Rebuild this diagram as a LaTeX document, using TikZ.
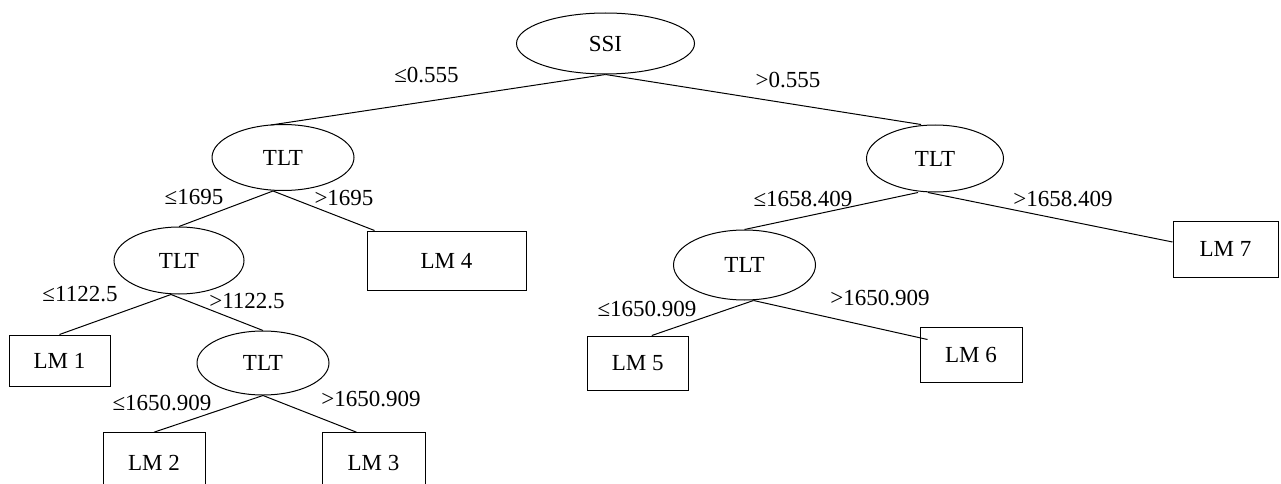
\documentclass[tikz,border=0pt]{standalone}
\usepackage{fontspec}
\setmainfont{Liberation Serif}
\usetikzlibrary{shapes.geometric,calc}
\begin{document}
\begin{tikzpicture}[x=1pt,y=-1pt,
  every node/.style={font=\fontsize{23}{26}\selectfont},
  ell/.style={draw, ellipse, inner sep=0pt, line width=1pt},
  lmbox/.style={draw, rectangle, inner sep=0pt, line width=1pt},
  conn/.style={line width=1pt},
  lbl/.style={inner sep=0pt}]
\clip (0,0) rectangle (1281,484);
\useasboundingbox (0,0) rectangle (1281,484);

% decision nodes
\node[ell, minimum width=178, minimum height=61] (ssi) at (605.5,43.5) {SSI};
\node[ell, minimum width=142, minimum height=66] (t1) at (283,157.5) {TLT};
\node[ell, minimum width=130, minimum height=67] (t2) at (179,260.5) {TLT};
\node[ell, minimum width=132, minimum height=64] (t3) at (263,363) {TLT};
\node[ell, minimum width=137, minimum height=67] (t4) at (935,158.5) {TLT};
\node[ell, minimum width=142, minimum height=70] (t5) at (744.5,265) {TLT};

% leaves
\node[lmbox, minimum width=101, minimum height=51] (lm1) at (59.5,360.5) {LM 1};
\node[lmbox, minimum width=102, minimum height=60] (lm2) at (154,462.7) {LM 2};
\node[lmbox, minimum width=103, minimum height=60] (lm3) at (373.5,462.7) {LM 3};
\node[lmbox, minimum width=159, minimum height=59] (lm4) at (446.5,260.5) {LM 4};
\node[lmbox, minimum width=101, minimum height=54] (lm5) at (637.8,363) {LM 5};
\node[lmbox, minimum width=102, minimum height=55] (lm6) at (971,354.5) {LM 6};
\node[lmbox, minimum width=105, minimum height=56] (lm7) at (1225.5,249) {LM 7};

% connectors
\draw[conn] (ssi.south) -- ($(t1.north)+(-12,1)$);
\draw[conn] (ssi.south) -- ($(t4.north)+(-14,0)$);
\draw[conn] ($(t1.south)+(-10,0)$) -- (t2.north);
\draw[conn] ($(t1.south)+(-10,0)$) -- ($(lm4.north west)+(8,0)$);
\draw[conn] ($(t2.south)+(-8,0)$) -- (lm1.north);
\draw[conn] ($(t2.south)+(-8,0)$) -- (t3.north);
\draw[conn] (t3.south) -- (lm2.north);
\draw[conn] (t3.south) -- ($(lm3.north)+(-17,0)$);
\draw[conn] ($(t4.south)+(-17,0)$) -- (t5.north);
\draw[conn] ($(t4.south)+(-7,0)$) -- ($(lm7.west)+(0,-7)$);
\draw[conn] ($(t5.south)+(9,0)$) -- ($(lm5.north)+(14,0)$);
\draw[conn] ($(t5.south)+(9,0)$) -- ($(lm6.north west)+(8,13)$);

% labels
\node[lbl] (l1) at (426.5,75) {≤0.555};
\node[lbl] (l2) at (788,80) {>0.555};
\node[lbl] (l3) at (194,197) {≤1695};
\node[lbl] (l4) at (344,197.5) {>1695};
\node[lbl] (l5) at (80,294) {≤1122.5};
\node[lbl] (l6) at (247,301) {>1122.5};
\node[lbl] (l7) at (162,403) {≤1650.909};
\node[lbl] (l8) at (371,399.5) {>1650.909};
\node[lbl] (l9) at (803,199) {≤1658.409};
\node[lbl] (l10) at (1063,199) {>1658.409};
\node[lbl] (l11) at (647,309) {≤1650.909};
\node[lbl] (l12) at (880,298) {>1650.909};
\end{tikzpicture}
\end{document}
